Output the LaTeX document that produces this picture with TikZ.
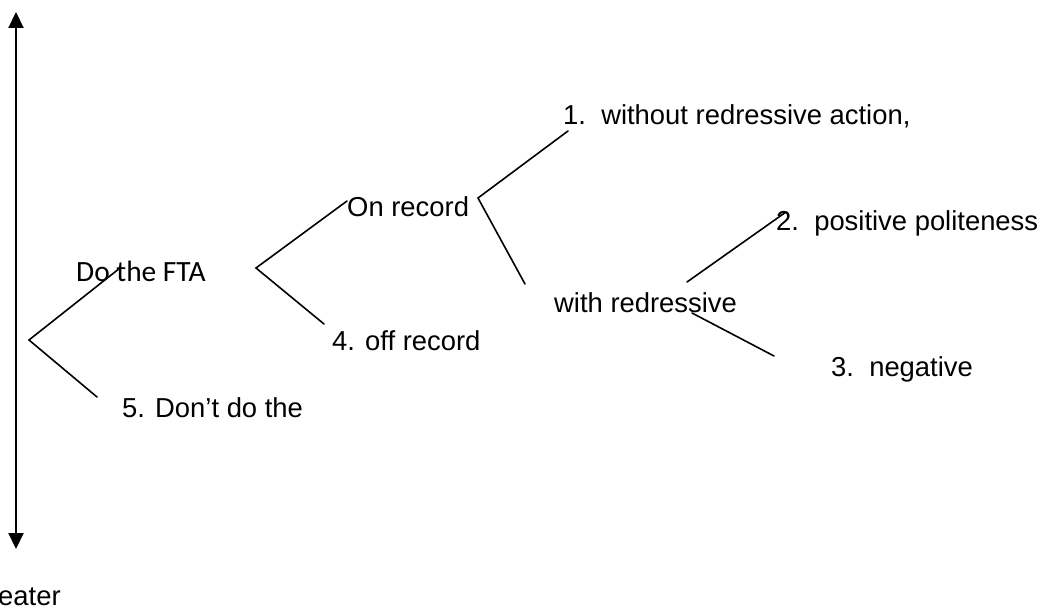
\documentclass[tikz,border=0pt]{standalone}
\usepackage{fontspec}
\setmainfont{Liberation Sans}
\newfontfamily\calfont{Carlito}
\usetikzlibrary{arrows.meta}
\begin{document}
\begin{tikzpicture}[x=1pt,y=-1pt,
  lbl/.style={anchor=base west,inner sep=0pt,font=\fontsize{27.4}{32}\selectfont},
  branch/.style={line width=1.6pt,line cap=round},
  axisarrow/.style={line width=2.2pt,{Triangle[width=15pt,length=16pt]}-{Triangle[width=15pt,length=16pt]}}]
\useasboundingbox (0,0) rectangle (1047,612);
% scale arrow
\coordinate (top) at (16,12);
\coordinate (bot) at (16,549);
\draw[axisarrow] (top) -- (bot);
\node[lbl] (greater) at (-2,605) {eater};
% labels
\node[lbl,font=\calfont\fontsize{29.4}{34}\selectfont] (fta) at (76,282) {Do the FTA};
\node[lbl] (dont) at (122,417) {5. Don’t do the};
\node[lbl] (on) at (347,217) {On record};
\node[lbl] (off) at (332,351) {4. off record};
\node[lbl] (wo) at (563,125) {1.\ \ without redressive action,};
\node[lbl] (with) at (554,313) {with redressive};
\node[lbl] (pos) at (776,231) {2.\ \ positive politeness};
\node[lbl] (neg) at (831,376) {3.\ \ negative};
% branch points
\coordinate (v1) at (29,340);
\coordinate (e1a) at (120,268);
\coordinate (e1b) at (97,397);
\coordinate (v2) at (256,268);
\coordinate (e2a) at (347,201);
\coordinate (e2b) at (324,324);
\coordinate (v3) at (478,198);
\coordinate (e3a) at (568,131);
\coordinate (e3b) at (525,284);
\coordinate (s4) at (687,282);
\coordinate (e4a) at (786,212);
\coordinate (s5) at (692,313);
\coordinate (e5b) at (774,356);
\draw[branch] (e1a) -- (v1) -- (e1b);
\draw[branch] (e2a) -- (v2) -- (e2b);
\draw[branch] (e3a) -- (v3) -- (e3b);
\draw[branch] (s4) -- (e4a);
\draw[branch] (s5) -- (e5b);
\end{tikzpicture}
\end{document}
